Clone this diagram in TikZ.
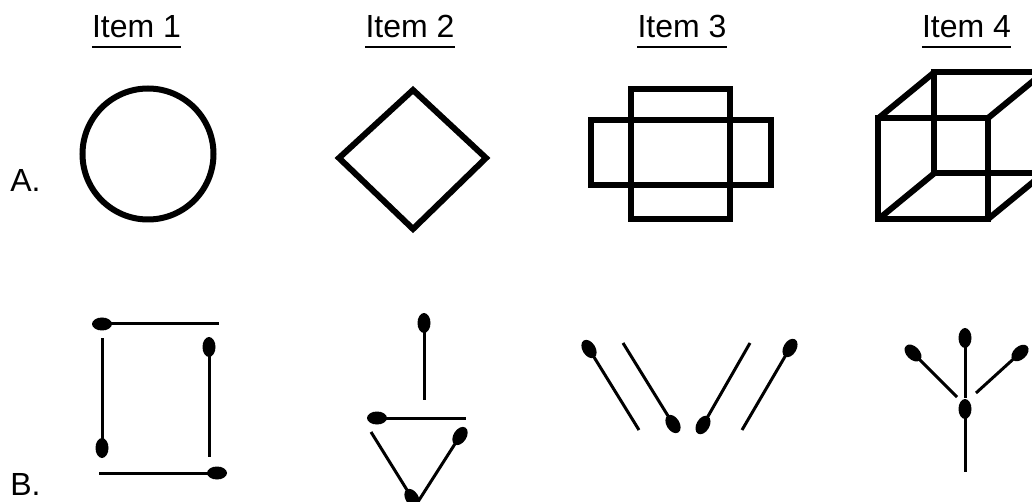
\documentclass[tikz,border=0pt]{standalone}
\usepackage{fontspec}
\setmainfont{Liberation Sans}
\usetikzlibrary{shapes.geometric,calc}
\newcommand{\mstick}[2]{%
  \draw[stick] (#1) -- (#2);
  \path let \p1=($(#2)-(#1)$), \n1={atan2(\y1,\x1)} in node[blob, rotate=\n1] at (#1) {};%
}
\begin{document}
\begin{tikzpicture}[x=0.75pt,y=-0.75pt,
  thickline/.style={line width=4.5pt, line join=miter},
  stick/.style={line width=2.25pt},
  blob/.style={ellipse, fill, inner sep=0pt, minimum width=15pt, minimum height=9.75pt},
  lbl/.style={font=\fontsize{24}{28}\selectfont, inner sep=0pt}]
\useasboundingbox (0,0) rectangle (1032,502);
\clip (0,0) rectangle (1032,502);

% headings
\foreach \x/\t [count=\i] in {136.5/Item 1, 410/Item 2, 682/Item 3, 966.5/Item 4} {
  \node[lbl, anchor=base] (h\i) at (\x,38) {\t};
  \draw[line width=1.5pt] ($(h\i.base west)+(0,9)$) -- ($(h\i.base east)+(0,9)$);
}
\node[lbl, anchor=base west] (la) at (10,192) {A.};
\node[lbl, anchor=base west] (lb) at (10,495) {B.};

% row A
\draw[thickline] (148,154) circle[radius=65.5];
\draw[thickline] (339,158) -- (413,90) -- (486,158) -- (413,229) -- cycle;
\draw[thickline] (631,89) rectangle (730,219);
\draw[thickline] (591,120) rectangle (771,185);
\draw[thickline] (878,118.5) rectangle (987.5,219.5);
\draw[thickline] (934,72.5) rectangle (1043.5,173.5);
\draw[thickline] (878,118.5) -- (934,72.5);
\draw[thickline] (987.5,118.5) -- (1043.5,72.5);
\draw[thickline] (878,219.5) -- (934,173.5);
\draw[thickline] (987.5,219.5) -- (1043.5,173.5);

% row B, item 1
\mstick{102,324}{219,324}
\mstick{102,448}{102,338}
\mstick{209,347}{209,457}
\mstick{217,473}{99,473}
% item 2
\mstick{424,323}{424,400}
\mstick{377,418}{466,418}
\mstick{412,498}{371,432}
\mstick{460,436}{414,508}
% item 3
\mstick{589,349}{639,430}
\mstick{673,424}{623,343}
\mstick{703,425}{750,343}
\mstick{790,348}{742,430}
% item 4
\mstick{965,338}{965,398}
\mstick{913,353}{957,397}
\mstick{1020,353}{976,393}
\mstick{965,409}{965,472}
\end{tikzpicture}
\end{document}
